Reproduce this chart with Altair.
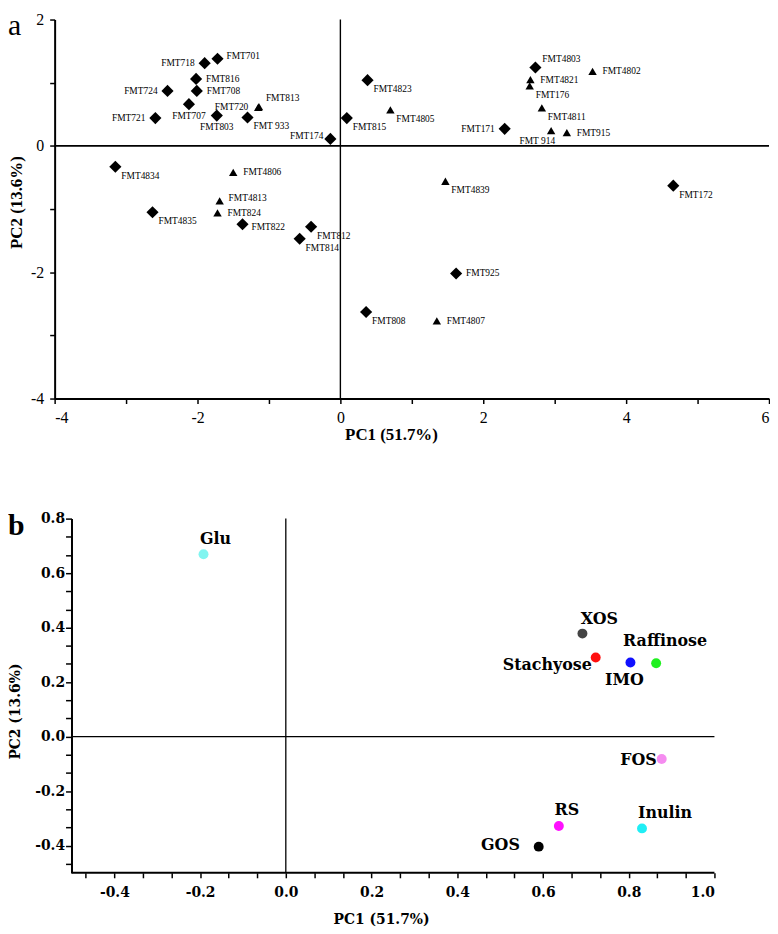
import altair as alt
import pandas as pd

# ---------------- Panel a data ----------------
a_names = ["FMT718", "FMT701", "FMT816", "FMT724", "FMT708", "FMT707", "FMT721", "FMT803", "FMT 933",
           "FMT720", "FMT813", "FMT174", "FMT815", "FMT4823", "FMT4805", "FMT4834", "FMT4806", "FMT4813",
           "FMT4835", "FMT824", "FMT822", "FMT812", "FMT814", "FMT808", "FMT4803", "FMT4802", "FMT4821",
           "FMT176", "FMT4811", "FMT171", "FMT 914", "FMT915", "FMT4839", "FMT172", "FMT925", "FMT4807"]
a_pc1 = [-1.90, -1.72, -2.02, -2.42, -2.01, -2.12, -2.59, -1.73, -1.30,
         -1.15, -1.14, -0.14, 0.09, 0.38, 0.70, -3.15, -1.50, -1.69,
         -2.63, -1.72, -1.37, -0.41, -0.57, 0.36, 2.73, 3.53, 2.66,
         2.65, 2.82, 2.30, 2.95, 3.17, 1.47, 4.66, 1.62, 1.35]
a_pc2 = [1.31, 1.38, 1.06, 0.87, 0.87, 0.66, 0.44, 0.48, 0.45,
         0.61, 0.62, 0.11, 0.44, 1.04, 0.57, -0.33, -0.42, -0.87,
         -1.05, -1.06, -1.24, -1.28, -1.47, -2.63, 1.24, 1.18, 1.05,
         0.95, 0.60, 0.27, 0.24, 0.21, -0.56, -0.63, -2.02, -2.77]
a_group = ["diamond"] * 9 + [
    "triangle", "triangle", "diamond", "diamond", "diamond", "triangle", "diamond", "triangle", "triangle",
    "diamond", "triangle", "diamond", "diamond", "diamond", "diamond", "diamond", "triangle", "triangle",
    "triangle", "triangle", "diamond", "triangle", "triangle", "triangle", "diamond", "diamond", "triangle"]
a_place = ["L", "RU", "R", "L", "R", "B", "L", "B", "BR",
           "L", "TR", "LU", "BR", "BR", "BR", "BR", "R", "RU",
           "BR", "R", "RD", "BR", "BR", "BR", "TR", "R", "R",
           "BR", "BR", "L", "BL", "R", "BR", "BR", "R", "R"]

# ---------------- Panel b data ----------------
b_names = ["Glu", "XOS", "Stachyose", "IMO", "Raffinose", "FOS", "RS", "Inulin", "GOS"]
b_pc1 = [-0.192, 0.692, 0.723, 0.804, 0.864, 0.877, 0.637, 0.831, 0.590]
b_pc2 = [0.669, 0.378, 0.290, 0.272, 0.269, -0.082, -0.328, -0.337, -0.404]
b_colors = ["#80f5f0", "#444444", "#ff1010", "#1010ff", "#20f020", "#f58cf0", "#ff10ff", "#20eef5", "#000000"]
b_place = ["T", "T2", "LD", "B", "TT", "L", "T3", "TL", "LL"]

# axis extents of panel b (frame drawn from these)
b_x_range = [-0.5, 1.0]
b_y_range = [-0.5, 0.8]

# label placement styles: code -> (align, dx, dy)
A_PLACE = {"R": ("left", 10, 0), "RU": ("left", 9, -3), "RD": ("left", 9, 3),
           "L": ("right", -10, 0), "LU": ("right", -7, -3),
           "BR": ("left", 6, 9), "B": ("center", 0, 12), "TR": ("left", 7, -9),
           "BL": ("right", 4, 10)}
B_PLACE = {"T": ("center", 12, -15), "T2": ("center", 17, -15), "T3": ("center", 8, -16),
           "TT": ("center", 9, -22), "LD": ("right", -4, 8), "B": ("center", -6, 18),
           "L": ("right", -5, 1), "TL": ("left", -4, -15), "LL": ("right", -19, -2)}

df_a = pd.DataFrame({"name": a_names, "pc1": a_pc1, "pc2": a_pc2, "grp": a_group, "place": a_place})
df_b = pd.DataFrame({"name": b_names, "pc1": b_pc1, "pc2": b_pc2, "place": b_place})

SERIF = "Liberation Serif"
DSERIF = "DejaVu Serif"

# ---------------- Panel a ----------------
A_W, A_H = 720, 382
lab_a = "datum.value % 2 == 0 ? (datum.value < 0 ? '-' : '') + abs(datum.value) : ''"
common_a = dict(domainColor="black", domainWidth=2, tickColor="black", tickWidth=1.5, tickSize=5,
                labelFont=SERIF, labelFontSize=16, labelColor="black", labelPadding=6,
                titleFont=SERIF, titleFontSize=17, titleFontWeight="bold", titleColor="black", grid=False)
X_a = alt.X("pc1:Q", scale=alt.Scale(domain=[-4, 6], nice=False, zero=False),
            axis=alt.Axis(values=list(range(-4, 7)), labelExpr=lab_a, title="PC1 (51.7%)",
                          titlePadding=1, titleX=339, **common_a))
Y_a = alt.Y("pc2:Q", scale=alt.Scale(domain=[-4, 2], nice=False, zero=False),
            axis=alt.Axis(values=list(range(-4, 3)), labelExpr=lab_a, title="PC2 (13.6%)",
                          titleX=-38, titleY=184, titleBaseline="middle", **common_a))

rule_ha = alt.Chart(pd.DataFrame({"pc2": [0]})).mark_rule(color="black", strokeWidth=1.6).encode(y=Y_a)
rule_va = alt.Chart(pd.DataFrame({"pc1": [0]})).mark_rule(color="black", strokeWidth=1.4).encode(x=X_a)
pts_a = alt.Chart(df_a).mark_point(filled=True, color="black", opacity=1).encode(
    x=X_a, y=Y_a,
    shape=alt.Shape("grp:N", scale=alt.Scale(domain=["diamond", "triangle"], range=["diamond", "triangle-up"]), legend=None),
    size=alt.Size("grp:N", scale=alt.Scale(domain=["diamond", "triangle"], range=[150, 72]), legend=None),
)
labels_a = []
for code, (al, dx, dy) in A_PLACE.items():
    labels_a.append(
        alt.Chart(df_a).transform_filter(alt.datum.place == code).mark_text(
            align=al, baseline="middle", dx=dx, dy=dy, font=SERIF, fontSize=9.5, color="black"
        ).encode(x=X_a, y=Y_a, text="name:N")
    )
letter_a = alt.Chart(alt.Data(values=[{"t": "a"}])).mark_text(
    align="left", baseline="top", font=SERIF, fontSize=30, color="black"
).encode(x=alt.value(-47), y=alt.value(-8), text="t:N")

panel_a = alt.layer(rule_ha, rule_va, pts_a, *labels_a, letter_a).properties(width=A_W, height=A_H)

# ---------------- Panel b ----------------
# plot area starts 17px left of the y axis so that panel b's axis sits right of panel a's
B_SHIFT = 17
B_PX = 648 / (b_x_range[1] - b_x_range[0])
B_W, B_H = 648 + B_SHIFT, 357
b_dom_x = [b_x_range[0] - B_SHIFT / B_PX, b_x_range[1]]

lab_b = ("abs(datum.value*5 - round(datum.value*5)) < 0.01 ? "
         "(datum.value < -0.001 ? '-' : '') + format(abs(datum.value), '.1f') : ''")
common_b = dict(domainColor="black", domainWidth=2, tickColor="black", tickWidth=1.5,
                labelFont=DSERIF, labelFontSize=14, labelFontWeight="bold", labelColor="black",
                titleFont=DSERIF, titleFontSize=14, titleFontWeight="bold", titleColor="black", grid=False)
xt_b = [round(-0.4 + k / 15, 4) for k in range(-1, 22)]
yt_b = [round(-0.4 + k / 15, 4) for k in range(-1, 19)]
X_b = alt.X("pc1:Q", scale=alt.Scale(domain=b_dom_x, nice=False, zero=False),
            axis=alt.Axis(values=xt_b, labelExpr=lab_b, title="PC1 (51.7%)", tickSize=5, domain=False,
                          labelPadding=8, titlePadding=13, titleX=329, **common_b))
Y_b = alt.Y("pc2:Q", scale=alt.Scale(domain=b_y_range, nice=False, zero=False),
            axis=alt.Axis(values=yt_b, labelExpr=lab_b, title="PC2 (13.6%)", tickSize=6,
                          offset=-B_SHIFT, labelPadding=1, titleX=-39 - B_SHIFT, titleY=194,
                          titleBaseline="middle", **common_b))

frame_b = pd.DataFrame({"pc1": [b_x_range[0], b_x_range[0]], "pc1_end": [b_x_range[1], b_x_range[1]],
                        "pc2": [0, b_y_range[0]], "w": ["zero", "axis"]})
rule_hb = alt.Chart(frame_b).mark_rule(color="black").encode(
    x=X_b, x2="pc1_end:Q", y=Y_b,
    strokeWidth=alt.StrokeWidth("w:N", scale=alt.Scale(domain=["zero", "axis"], range=[1.3, 2]), legend=None),
)
rule_vb = alt.Chart(pd.DataFrame({"pc1": [0]})).mark_rule(color="black", strokeWidth=1.3).encode(x=X_b)
pts_b = alt.Chart(df_b).mark_circle(size=100, opacity=1).encode(
    x=X_b, y=Y_b,
    color=alt.Color("name:N", scale=alt.Scale(domain=b_names, range=b_colors), legend=None),
)
labels_b = []
for code, (al, dx, dy) in B_PLACE.items():
    labels_b.append(
        alt.Chart(df_b).transform_filter(alt.datum.place == code).mark_text(
            align=al, baseline="middle", dx=dx, dy=dy, font=DSERIF, fontSize=16,
            fontWeight="bold", color="black"
        ).encode(x=X_b, y=Y_b, text="name:N")
    )
letter_b = alt.Chart(alt.Data(values=[{"t": "b"}])).mark_text(
    align="left", baseline="top", font=SERIF, fontSize=30, fontWeight="bold", color="black"
).encode(x=alt.value(-47), y=alt.value(-7), text="t:N")

panel_b = alt.layer(rule_hb, rule_vb, pts_b, *labels_b, letter_b).properties(width=B_W, height=B_H)

chart = alt.vconcat(panel_a, panel_b, spacing=70).properties(
    padding=0, background="white"
).configure_view(stroke=None)

chart.save("out.html", embed_options={"renderer": "svg", "actions": False})
